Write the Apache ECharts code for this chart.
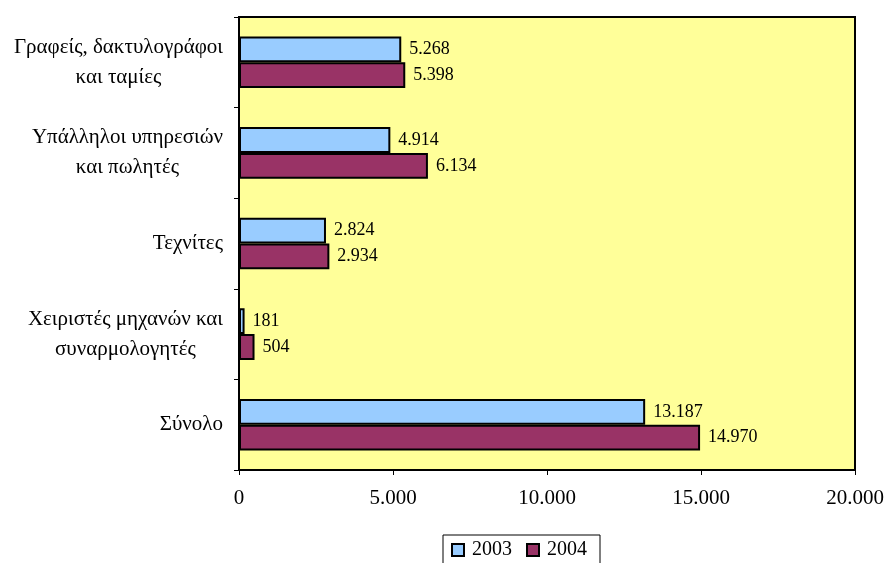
<!DOCTYPE html>
<html>
<head>
<meta charset="utf-8">
<title>Chart</title>
<script src="https://cdn.jsdelivr.net/npm/echarts@6/dist/echarts.min.js"></script>
<style>
  html, body { margin: 0; padding: 0; background: #fff; }
  #chart { width: 885px; height: 563px; }
</style>
</head>
<body>
<div id="chart"></div>
<script>
var categories = [
  'Γραφείς, δακτυλογράφοι\nκαι ταμίες',
  'Υπάλληλοι υπηρεσιών\nκαι πωλητές',
  'Τεχνίτες',
  'Χειριστές μηχανών και\nσυναρμολογητές',
  'Σύνολο'
];
var years = ['2003', '2004'];
var values2003 = [5268, 4914, 2824, 181, 13187];
var values2004 = [5398, 6134, 2934, 504, 14970];
var xTicks = [0, 5000, 10000, 15000, 20000];

function fmt(v) {
  return String(v).replace(/\B(?=(\d{3})+(?!\d))/g, '.');
}

var font = '"Liberation Serif", "DejaVu Serif", serif';
var chart = echarts.init(document.getElementById('chart'));

function barSeries(name, data, color) {
  return {
    name: name,
    type: 'bar',
    data: data,
    barGap: '0%',
    barCategoryGap: '43%',
    itemStyle: { color: color, borderColor: '#000', borderWidth: 2 },
    label: {
      show: true,
      position: 'right',
      distance: 8,
      color: '#000',
      fontFamily: font,
      fontSize: 18,
      formatter: function (p) { return fmt(p.value); }
    }
  };
}

var option = {
  animation: false,
  textStyle: { fontFamily: font },
  grid: {
    left: 239, right: 30, top: 17, bottom: 93,
    outerBoundsMode: 'none',
    show: true,
    backgroundColor: '#FFFF99',
    borderColor: '#000',
    borderWidth: 2
  },
  legend: {
    data: years,
    icon: 'rect',
    left: 443,
    top: 535,
    itemWidth: 12,
    itemHeight: 12,
    itemGap: 14,
    borderColor: '#000',
    borderWidth: 1,
    padding: [5, 13, 10, 8],
    backgroundColor: '#fff',
    textStyle: { color: '#000', fontFamily: font, fontSize: 20, padding: [0, 0, 0, 3] },
    itemStyle: { borderColor: '#000', borderWidth: 2 }
  },
  xAxis: {
    type: 'value',
    min: xTicks[0],
    max: xTicks[xTicks.length - 1],
    interval: 5000,
    axisLine: { show: true, lineStyle: { color: '#000', width: 2 } },
    axisTick: { show: true, length: 5, lineStyle: { color: '#000' } },
    splitLine: { show: false },
    axisLabel: {
      color: '#000',
      fontFamily: font,
      fontSize: 21,
      margin: 18,
      formatter: function (v) { return fmt(v); }
    }
  },
  yAxis: {
    type: 'category',
    data: categories,
    inverse: true,
    axisLine: { show: true, lineStyle: { color: '#000', width: 2 } },
    axisTick: { show: true, length: 5, lineStyle: { color: '#000' } },
    axisLabel: {
      color: '#000',
      margin: 16,
      formatter: function (v) {
        return v.split('\n').map(function (s) { return '{c|' + s + '}'; }).join('\n');
      },
      rich: {
        c: { align: 'center', fontFamily: font, fontSize: 21, lineHeight: 30, color: '#000' }
      }
    }
  },
  series: [
    barSeries(years[0], values2003, '#99CCFF'),
    barSeries(years[1], values2004, '#993366')
  ]
};

chart.setOption(option);
window.onresize = function () { chart.resize(); };
</script>
</body>
</html>
